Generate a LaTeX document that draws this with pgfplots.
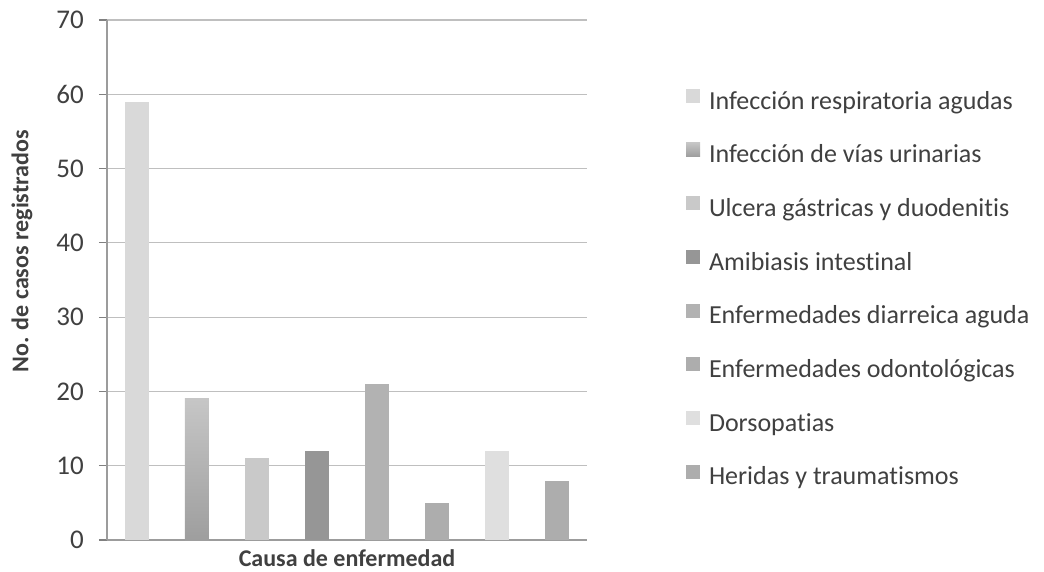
\documentclass[border=0pt]{standalone}
\usepackage{pgfplots}
\pgfplotsset{compat=1.18}
\usepackage{fontspec}
\setmainfont{Carlito}[Ligatures=NoCommon]
\definecolor{txt}{HTML}{404040}
\definecolor{grid}{HTML}{9C9C9C}
\definecolor{cA}{HTML}{D9D9D9}
\definecolor{cBt}{HTML}{C6C6C6}
\definecolor{cBb}{HTML}{9E9E9E}
\definecolor{cC}{HTML}{C9C9C9}
\definecolor{cD}{HTML}{969696}
\definecolor{cE}{HTML}{B2B2B2}
\definecolor{cF}{HTML}{ADADAD}
\definecolor{cG}{HTML}{DFDFDF}
\definecolor{cH}{HTML}{ADADAD}
\begin{document}
\begin{tikzpicture}
\path[use as bounding box] (-107bp,-32bp) rectangle (937bp,540bp);
\begin{axis}[
  at={(0,0)}, anchor=south west,
  scale only axis, width=480bp, height=520bp,
  ybar, bar width=24bp, bar shift=0pt,
  xmin=-0.5, xmax=7.5, ymin=0, ymax=70,
  ytick={0,10,...,70}, xtick=\empty,
  axis x line*=bottom, axis y line*=left,
  axis line style={grid, line width=1.2bp},
  ymajorgrids, grid style={grid, line width=1.2bp},
  y axis line style={-}, x axis line style={-},
  tick align=outside, major tick length=8bp,
  tick style={grid, line width=1.2bp},
  /pgf/number format/assume math mode=true,
  yticklabel style={font=\fontsize{27bp}{31bp}\selectfont, text=txt, inner sep=0pt, xshift=-15bp},
  ylabel={No. de casos registrados},
  ylabel style={at={(axis description cs:-0.177,0.555)}, anchor=center, font=\fontsize{24bp}{28bp}\selectfont\bfseries, text=txt},
  xlabel={Causa de enfermedad},
  xlabel style={at={(axis description cs:0.5,-0.0515)}, anchor=base, font=\fontsize{24bp}{28bp}\selectfont\bfseries, text=txt},
  legend image code/.code={\fill[#1] (0bp,0.3bp) rectangle (14bp,14.3bp);},
  legend cell align=left,
  legend style={at={(axis description cs:1.2063,0.481)}, anchor=west, draw=none, fill=none,
    inner sep=0pt, outer sep=0pt,
    font=\fontsize{26bp}{30bp}\selectfont, text=txt,
    nodes={inner sep=0pt, text height=18bp, text depth=6bp},
    row sep=27.4bp, column sep=9bp},
]
\addplot[fill=cA, draw=none] coordinates {(0,59)};
\addlegendentry{Infección respiratoria agudas}
\addplot[top color=cBt, bottom color=cBb, draw=none] coordinates {(1,19)};
\addlegendentry{Infección de vías urinarias}
\addplot[fill=cC, draw=none] coordinates {(2,11)};
\addlegendentry{Ulcera gástricas y duodenitis}
\addplot[fill=cD, draw=none] coordinates {(3,12)};
\addlegendentry{Amibiasis intestinal}
\addplot[fill=cE, draw=none] coordinates {(4,21)};
\addlegendentry{Enfermedades diarreica aguda}
\addplot[fill=cF, draw=none] coordinates {(5,5)};
\addlegendentry{Enfermedades odontológicas}
\addplot[fill=cG, draw=none] coordinates {(6,12)};
\addlegendentry{Dorsopatias}
\addplot[fill=cH, draw=none] coordinates {(7,8)};
\addlegendentry{Heridas y traumatismos}
\end{axis}
\end{tikzpicture}
\end{document}
